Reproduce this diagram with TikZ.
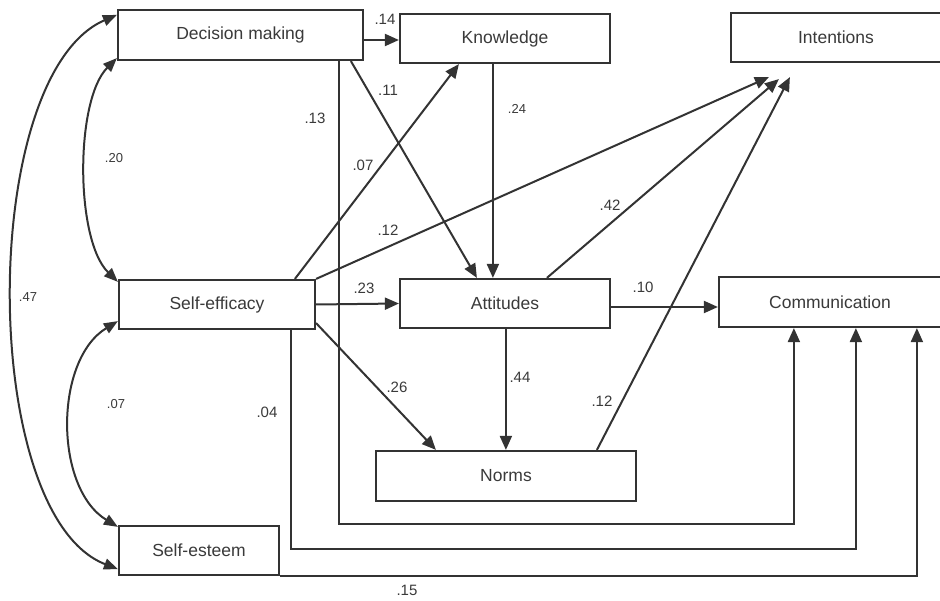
\documentclass[tikz,border=0pt]{standalone}
\usepackage{fontspec}
\setmainfont{Liberation Sans}
\usetikzlibrary{arrows.meta,calc}
\definecolor{ink}{HTML}{333333}
\definecolor{txt}{HTML}{3A3A3A}
\begin{document}
\begin{tikzpicture}[x=1pt,y=-1pt,
  box/.style={draw=ink,line width=2.2pt,rectangle,inner sep=0pt,text=txt,
    font=\fontsize{17.5}{19}\selectfont},
  arr/.style={draw=ink,line width=2pt,-{Triangle[length=14pt,width=12pt]}},
  darr/.style={draw=ink,line width=2pt,{Triangle[length=14pt,width=11pt]}-{Triangle[length=14pt,width=11pt]}},
  lab/.style={text=txt,inner sep=0pt,font=\fontsize{15}{17}\selectfont},
  slab/.style={text=txt,inner sep=0pt,font=\fontsize{13}{15}\selectfont}]
\useasboundingbox (0,0) rectangle (940,601);
\fill[white] (0,0) rectangle (940,601);
\begin{scope}
\clip (0,0) rectangle (940,601);
% boxes
\node[box,minimum width=245pt,minimum height=50pt] (DM) at (240.5,35) {Decision making};
\node[box,minimum width=210pt,minimum height=49pt] (KN) at (505,38.5) {Knowledge};
\node[box,minimum width=210pt,minimum height=49pt] (IN) at (836,37.5) {Intentions};
\node[box,minimum width=196pt,minimum height=49pt] (SE) at (217,304.5) {Self-efficacy};
\node[box,minimum width=210pt,minimum height=49pt] (AT) at (505,303.5) {Attitudes};
\node[box,minimum width=222pt,minimum height=50pt] (CO) at (830,302) {Communication};
\node[box,minimum width=260pt,minimum height=50pt] (NO) at (506,476) {Norms};
\node[box,minimum width=160pt,minimum height=49pt] (ES) at (199,550.5) {Self-esteem};

% anchor points
\coordinate (co1) at ([xshift=76pt]CO.south west);
\coordinate (co2) at ([xshift=138pt]CO.south west);
\coordinate (co3) at ([xshift=199pt]CO.south west);
\coordinate (dm1) at ([xshift=222pt]DM.south west);
\coordinate (se1) at ([xshift=173pt]SE.south west);
\coordinate (b13) at (0,524);
\coordinate (b04) at (0,549);

% straight paths
\draw[arr] ([yshift=-5pt]DM.east) -- ([yshift=-1.5pt]KN.west);
\draw[arr] ([xshift=234pt]DM.south west) -- ([xshift=78pt]AT.north west);
\draw[arr] ([xshift=94pt]KN.south west) -- ([xshift=94pt]AT.north west);
\draw[arr] ([xshift=177pt]SE.north west) -- ([xshift=60pt]KN.south west);
\draw[arr] (SE.north east) -- ([xshift=39pt,yshift=-14pt]IN.south west);
\draw[arr] ([xshift=148pt]AT.north west) -- ([xshift=49pt,yshift=-16pt]IN.south west);
\draw[arr] ([xshift=222pt]NO.north west) -- ([xshift=60pt,yshift=-14pt]IN.south west);
\draw[arr] (SE.east) -- (AT.west);
\draw[arr] ([yshift=7pt]SE.south east) -- ([xshift=61pt]NO.north west);
\draw[arr] ([xshift=107pt]AT.south west) -- ([xshift=131pt]NO.north west);
\draw[arr] ([yshift=-3.5pt]AT.east) -- ([yshift=-5pt]CO.west);

% elbow paths to Communication
\draw[arr] (dm1) -- (dm1 |- b13) -- (co1 |- b13) -- (co1);
\draw[arr] (se1) -- (se1 |- b04) -- (co2 |- b04) -- (co2);
\draw[arr] (ES.south east) -| (co3);

% curved correlations
\draw[darr] ([yshift=3pt]DM.south west) .. controls (75,100) and (75,240) .. ([yshift=-3pt]SE.north west);
\draw[darr] ([yshift=9pt]SE.south west) .. controls (54,360) and (54,488) .. ([yshift=-2pt]ES.north west);
\draw[darr] ([yshift=-6pt]DM.north west) .. controls (-22,75) and (-22,515) .. ([yshift=7pt]ES.south west);
\end{scope}

% labels
\node[lab] (l14) at (385,19) {.14};
\node[lab] (l13) at (315,118) {.13};
\node[lab] (l11) at (388,90) {.11};
\node[slab] (l24) at (517,109) {.24};
\node[lab] (l07a) at (363,165) {.07};
\node[slab] (l20) at (114,158) {.20};
\node[lab] (l12a) at (388,230) {.12};
\node[lab] (l42) at (610,205) {.42};
\node[lab] (l23) at (364,288) {.23};
\node[lab] (l10) at (643,287) {.10};
\node[slab] (l47) at (28,297) {.47};
\node[lab] (l26) at (397,387) {.26};
\node[lab] (l44) at (520,377) {.44};
\node[lab] (l12b) at (602,401) {.12};
\node[lab] (l04) at (267,412) {.04};
\node[slab] (l07b) at (116,404) {.07};
\node[lab] (l15) at (407,590) {.15};
\end{tikzpicture}
\end{document}
